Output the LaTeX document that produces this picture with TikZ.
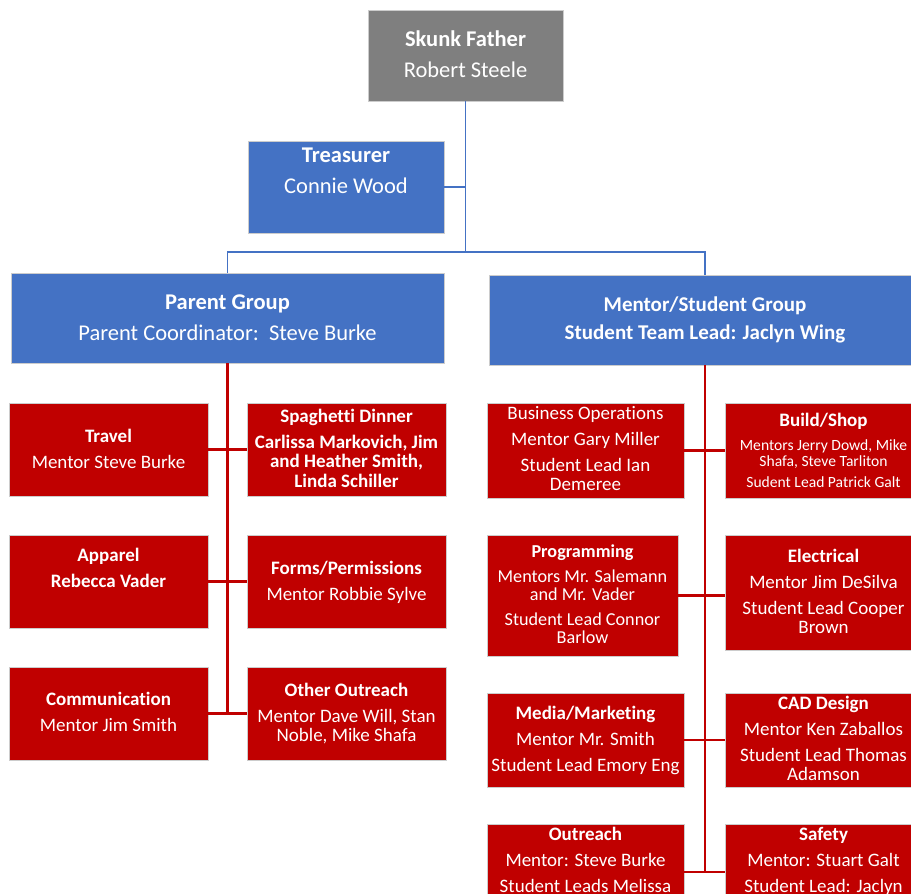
\documentclass[tikz,border=0pt]{standalone}
\usepackage{fontspec}
\setmainfont{Carlito}[Ligatures={NoCommon}]
\definecolor{boxred}{HTML}{C00000}
\definecolor{boxblue}{HTML}{4472C4}
\definecolor{boxgray}{HTML}{7F7F7F}
\tikzset{
  card/.style={rectangle, inner sep=0pt, outer sep=0pt, anchor=north west, draw=white!80!black, line width=0.6pt},
  redcard/.style={card, fill=boxred},
  bluecard/.style={card, fill=boxblue},
  graycard/.style={card, fill=boxgray},
  bigtxt/.style={anchor=north, align=center, inner sep=0pt, text=white, font=\fontsize{22.5}{31}\selectfont},
  grouptxt/.style={anchor=north, align=center, inner sep=0pt, text=white, font=\fontsize{21}{28}\selectfont},
  midtxt/.style={anchor=north, align=center, inner sep=0pt, text=white, font=\fontsize{19}{19.5}\selectfont},
  progtxt/.style={anchor=north, align=center, inner sep=0pt, text=white, font=\fontsize{18.2}{18}\selectfont},
  smalltxt/.style={anchor=north, align=center, inner sep=0pt, text=white, font=\fontsize{15.6}{16}\selectfont},
  blueline/.style={draw=boxblue, line width=1.6pt},
  redline/.style={draw=boxred, line width=2.2pt},
}
\newcommand{\strutbig}{\rule{0pt}{17pt}}
\newcommand{\strutgrp}{\rule{0pt}{16pt}}
\newcommand{\strutmid}{\rule{0pt}{14pt}}
\begin{document}
\begin{tikzpicture}[x=1pt,y=-1pt]
\useasboundingbox (0,0) rectangle (911,894);
\fill[white] (0,0) rectangle (911,894);
\clip (0,0) rectangle (911,894);

% boxes
\node[graycard, minimum width=195pt, minimum height=91pt] (skunk) at (368,10) {};
\node[bluecard, minimum width=196pt, minimum height=92pt] (treas) at (248,141) {};
\node[bluecard, minimum width=433pt, minimum height=90pt] (parent) at (11,273) {};
\node[bluecard, minimum width=432pt, minimum height=90pt] (mentor) at (489,275) {};

\node[redcard, minimum width=199pt, minimum height=93pt] (travel) at (9,403) {};
\node[redcard, minimum width=199pt, minimum height=93pt] (spag) at (247,403) {};
\node[redcard, minimum width=199pt, minimum height=93pt] (apparel) at (9,535) {};
\node[redcard, minimum width=199pt, minimum height=93pt] (forms) at (247,535) {};
\node[redcard, minimum width=199pt, minimum height=93pt] (comm) at (9,667) {};
\node[redcard, minimum width=199pt, minimum height=93pt] (other) at (247,667) {};

\node[redcard, minimum width=197pt, minimum height=95pt] (bus) at (487,403) {};
\node[redcard, minimum width=197pt, minimum height=95pt] (build) at (725,403) {};
\node[redcard, minimum width=191pt, minimum height=121pt] (prog) at (487,535) {};
\node[redcard, minimum width=197pt, minimum height=115pt] (elec) at (725,535) {};
\node[redcard, minimum width=197pt, minimum height=94pt] (media) at (487,693) {};
\node[redcard, minimum width=197pt, minimum height=94pt] (cad) at (725,693) {};
\node[redcard, minimum width=197pt, minimum height=96pt] (outr) at (487,824) {};
\node[redcard, minimum width=197pt, minimum height=96pt] (safety) at (725,824) {};

% texts
\node[bigtxt] (skunk-t) at (465.5,29) {\strutbig\textbf{Skunk Father}\\Robert Steele};
\node[bigtxt] (treas-t) at (346,145) {\strutbig\textbf{Treasurer}\\Connie Wood};
\node[bigtxt] (parent-t) at (227.5,292) {\strutbig\textbf{Parent Group}\\Parent Coordinator:\ \ Steve Burke};
\node[grouptxt] (mentor-t) at (705,295) {\strutgrp\textbf{Mentor/Student Group}\\\textbf{Student Team Lead: Jaclyn Wing}};

\node[midtxt] (travel-t) at (108.5,428) {\strutmid\textbf{Travel}\\[6.5pt]Mentor Steve Burke};
\node[midtxt] (spag-t) at (346.5,408) {\strutmid\textbf{Spaghetti Dinner}\\[6.5pt]\textbf{Carlissa Markovich, Jim}\\\textbf{and Heather Smith,}\\\textbf{Linda Schiller}};
\node[midtxt] (apparel-t) at (108.5,547) {\strutmid\textbf{Apparel}\\[6.5pt]\textbf{Rebecca Vader}};
\node[midtxt] (forms-t) at (346.5,560) {\strutmid\textbf{Forms/Permissions}\\[6.5pt]Mentor Robbie Sylve};
\node[midtxt] (comm-t) at (108.5,691) {\strutmid\textbf{Communication}\\[6.5pt]Mentor Jim Smith};
\node[midtxt] (other-t) at (346.5,682) {\strutmid\textbf{Other Outreach}\\[6.5pt]Mentor Dave Will, Stan\\Noble, Mike Shafa};

\node[midtxt] (bus-t) at (585.5,405) {\strutmid Business Operations\\[6.5pt]Mentor Gary Miller\\[6.5pt]Student Lead Ian\\Demeree};
\node[smalltxt] (build-t) at (823.5,412) {\strutmid{\fontsize{19}{16}\selectfont\textbf{Build/Shop}}\\[8pt]Mentors Jerry Dowd, Mike\\Shafa, Steve Tarliton\\[5pt]Sudent Lead Patrick Galt};
\node[progtxt] (prog-t) at (582.5,543) {\strutmid\textbf{Programming}\\[7pt]Mentors Mr. Salemann\\and Mr. Vader\\[7pt]Student Lead Connor\\Barlow};
\node[midtxt] (elec-t) at (823.5,548) {\strutmid\textbf{Electrical}\\[6.5pt]Mentor Jim DeSilva\\[6.5pt]Student Lead Cooper\\Brown};
\node[midtxt] (media-t) at (585.5,705) {\strutmid\textbf{Media/Marketing}\\[6.5pt]Mentor Mr. Smith\\[6.5pt]Student Lead Emory Eng};
\node[midtxt] (cad-t) at (823.5,695) {\strutmid\textbf{CAD Design}\\[6.5pt]Mentor Ken Zaballos\\[6.5pt]Student Lead Thomas\\Adamson};
\node[midtxt] (outr-t) at (585.5,826) {\strutmid\textbf{Outreach}\\[6.5pt]Mentor: Steve Burke\\[6.5pt]Student Leads Melissa};
\node[midtxt] (safety-t) at (823.5,826) {\strutmid\textbf{Safety}\\[6.5pt]Mentor: Stuart Galt\\[6.5pt]Student Lead: Jaclyn};

% connectors
\coordinate (bar) at (466,252);
\draw[blueline] (skunk.south) -- (skunk.south |- bar);
\draw[blueline] (treas.east) -- (treas.east -| skunk.south);
\draw[blueline] (parent.north) -- (parent.north |- bar) -- (mentor.north |- bar) -- (mentor.north);

\draw[redline] (parent.south) -- (parent.south |- comm.east);
\draw[redline] (travel.east) -- (spag.west);
\draw[redline] (apparel.east) -- (forms.west);
\draw[redline] (comm.east) -- (other.west);

\draw[redline] (mentor.south) -- (mentor.south |- outr.east);
\draw[redline] (bus.east) -- (build.west);
\draw[redline] (prog.east) -- (prog.east -| elec.west);
\draw[redline] (media.east) -- (cad.west);
\draw[redline] (outr.east) -- (safety.west);
\end{tikzpicture}
\end{document}
